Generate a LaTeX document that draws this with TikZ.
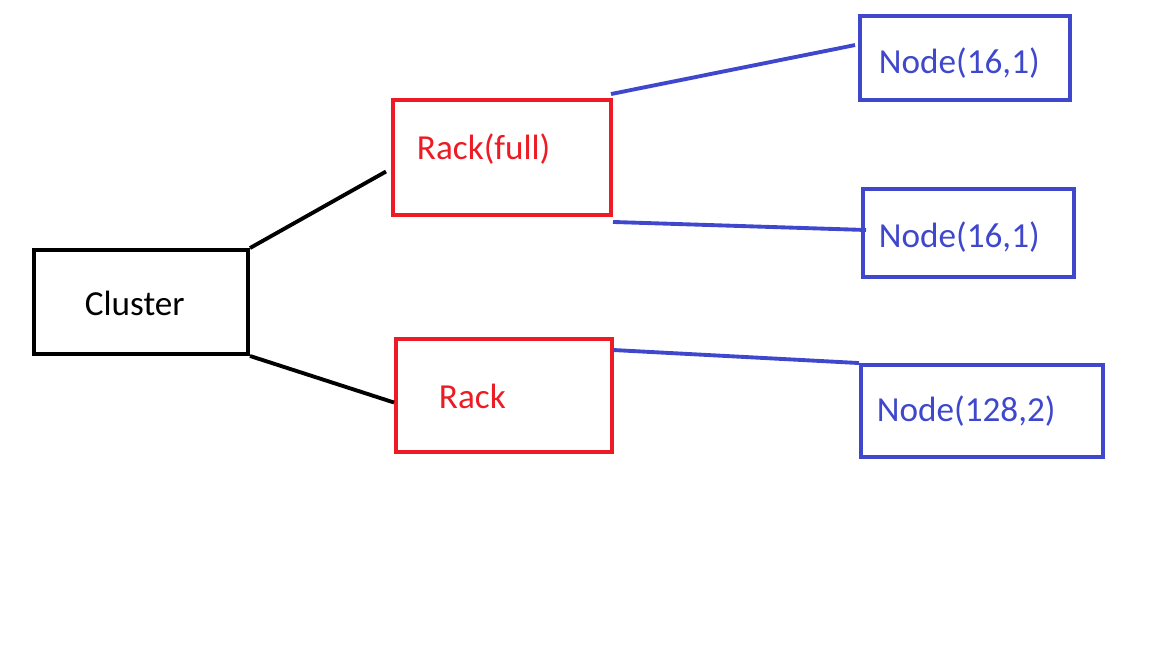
\documentclass[tikz,border=0pt]{standalone}
\usepackage{fontspec}
\setmainfont{Carlito}
\definecolor{rackred}{RGB}{237,28,36}
\definecolor{nodeblue}{RGB}{63,72,204}
\begin{document}
\begin{tikzpicture}[x=0.01cm,y=-0.01cm,line width=1.1pt,font=\fontsize{10}{12}\selectfont,
    box/.style={draw,inner sep=0pt},
    txt/.style={anchor=west,inner sep=0pt}]
    \useasboundingbox (0,0) rectangle (1152,648);

    \node (cl) at (141,302) [box, minimum width=2.14cm, minimum height=1.04cm] {};
    \node (cltext) at (83,303) [txt] {Cluster};

    \node (rk1) at (502,157.5) [box, rackred, minimum width=2.18cm, minimum height=1.15cm] {};
    \node (rk1text) at (415,149) [txt, rackred] {Rack(full)};
    \node (rk2) at (504,395.5) [box, rackred, minimum width=2.16cm, minimum height=1.13cm] {};
    \node (rk2text) at (437,396) [txt, rackred] {Rack};

    \node (nd1) at (965,58) [box, nodeblue, minimum width=2.10cm, minimum height=0.84cm] {};
    \node (nd1text) at (877,63) [txt, nodeblue] {Node(16,1)};
    \node (nd2) at (968.5,233) [box, nodeblue, minimum width=2.11cm, minimum height=0.88cm] {};
    \node (nd2text) at (877,237) [txt, nodeblue] {Node(16,1)};
    \node (nd3) at (982,411) [box, nodeblue, minimum width=2.42cm, minimum height=0.92cm] {};
    \node (nd3text) at (875,411) [txt, nodeblue] {Node(128,2)};

    \draw (cl.north east) -- ([xshift=-0.05cm,yshift=-0.14cm]rk1.west);
    \draw (cl.south east) -- ([yshift=-0.07cm]rk2.west);
    \draw[nodeblue] ([xshift=-0.02cm,yshift=0.04cm]rk1.north east) -- ([xshift=-0.03cm,yshift=-0.31cm]nd1.north west);
    \draw[nodeblue] ([yshift=-0.05cm]rk1.south east) -- ([xshift=0.05cm,yshift=0.03cm]nd2.west);
    \draw[nodeblue] ([yshift=-0.13cm]rk2.north east) -- (nd3.north west);
\end{tikzpicture}
\end{document}
